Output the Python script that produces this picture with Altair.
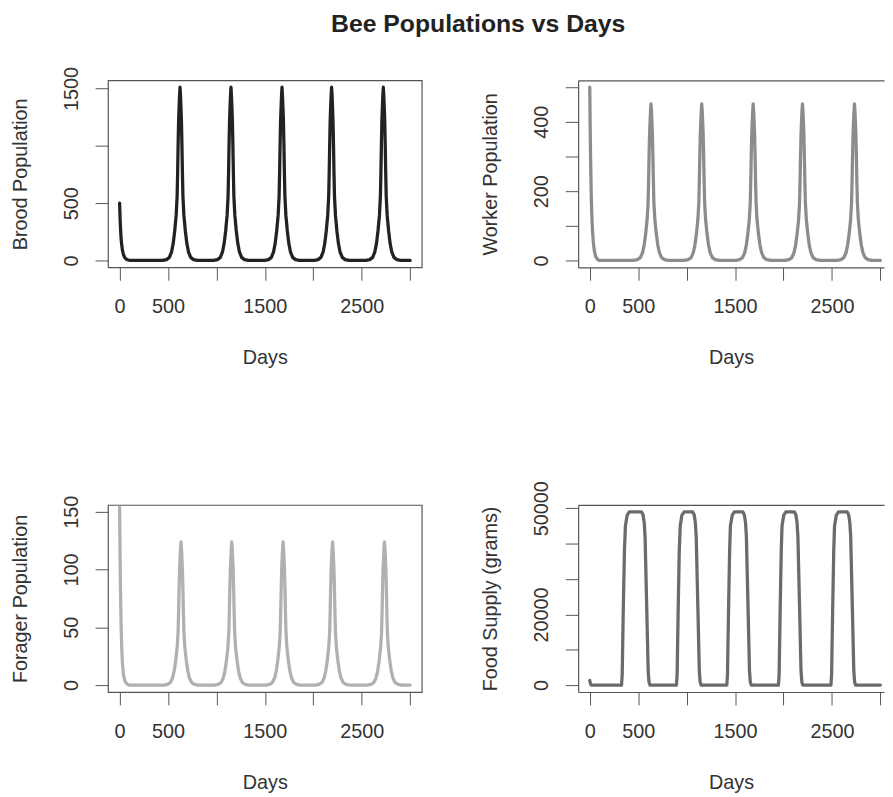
import altair as alt
import pandas as pd

TITLE = "Bee Populations vs Days"
X_TICKS = [0, 500, 1000, 1500, 2000, 2500, 3000]
X_LABELED = [0, 500, 1500, 2500]
LAST_DAY = 3000

# relative shape of one population pulse (days from the peak, fraction of peak)
PEAK_OFFSETS = [-180, -140, -110, -87, -70, -55, -40, -30, -25, -20, -15, -10, -5, 0,
                5, 10, 15, 20, 25, 30, 40, 55, 70, 87, 110, 140, 180]
PEAK_SHAPE = [0, 0.005, 0.018, 0.05, 0.10, 0.17, 0.26, 0.37, 0.50, 0.66, 0.80, 0.88, 0.95, 1.0,
              0.95, 0.88, 0.80, 0.66, 0.50, 0.37, 0.26, 0.17, 0.10, 0.05, 0.018, 0.005, 0]

BROOD_START_DAYS = [0, 5, 10, 15, 20, 30, 40, 55, 70, 90, 120]
BROOD_START_VALUES = [500, 365, 270, 200, 150, 85, 50, 22, 10, 3, 0]
BROOD_PEAK_DAYS = [624, 1150, 1677, 2189, 2723]
BROOD_PEAK_HEIGHT = 1512

WORKER_START_DAYS = [0, 4, 8, 12, 17, 22, 28, 36, 46, 60, 80, 100]
WORKER_START_VALUES = [500, 390, 305, 235, 170, 125, 88, 55, 30, 12, 3, 0]
WORKER_PEAK_DAYS = [632, 1156, 1687, 2196, 2733]
WORKER_PEAK_HEIGHT = 452

FORAGER_START_DAYS = [0, 4, 8, 12, 16, 22, 30, 40, 55, 75, 100]
FORAGER_START_VALUES = [154, 120, 90, 68, 50, 32, 18, 9, 3.5, 1, 0]
FORAGER_PEAK_DAYS = [634, 1158, 1688, 2199, 2735]
FORAGER_PEAK_HEIGHT = 124

FOOD_DAYS = [0, 6, 15,
             328, 335, 345, 358, 368, 385, 408, 534, 550, 562, 571, 588, 603, 612, 622,
             895, 902, 912, 924, 934, 950, 975, 1062, 1078, 1090, 1099, 1116, 1131, 1140, 1150,
             1415, 1422, 1432, 1444, 1452, 1470, 1493, 1580, 1596, 1608, 1617, 1634, 1649, 1658, 1668,
             1948, 1955, 1965, 1977, 1985, 2002, 2025, 2112, 2128, 2140, 2149, 2166, 2181, 2190, 2200,
             2490, 2497, 2507, 2519, 2527, 2545, 2568, 2657, 2673, 2685, 2694, 2711, 2726, 2735, 2745,
             3000]
FOOD_GRAMS = [1300, 500, 0,
              0, 3000, 20000, 38000, 45000, 48000, 49000, 49000, 48200, 46000, 42000, 22000, 4000, 800, 0,
              0, 3000, 20000, 38000, 45000, 48000, 49000, 49000, 48200, 46000, 42000, 22000, 4000, 800, 0,
              0, 3000, 20000, 38000, 45000, 48000, 49000, 49000, 48200, 46000, 42000, 22000, 4000, 800, 0,
              0, 3000, 20000, 38000, 45000, 48000, 49000, 49000, 48200, 46000, 42000, 22000, 4000, 800, 0,
              0, 3000, 20000, 38000, 45000, 48000, 49000, 49000, 48200, 46000, 42000, 22000, 4000, 800, 0,
              0]

BOX = "#555555"
TEXT = "#333333"
FONT = "Liberation Sans"


def pulses(start_days, start_values, peak_days, height):
    days = list(start_days)
    vals = list(start_values)
    for c in peak_days:
        for o, r in zip(PEAK_OFFSETS, PEAK_SHAPE):
            days.append(c + o)
            vals.append(height * r)
    days.append(LAST_DAY)
    vals.append(0)
    return pd.DataFrame({"day": days, "value": vals})


brood = pulses(BROOD_START_DAYS, BROOD_START_VALUES, BROOD_PEAK_DAYS, BROOD_PEAK_HEIGHT)
worker = pulses(WORKER_START_DAYS, WORKER_START_VALUES, WORKER_PEAK_DAYS, WORKER_PEAK_HEIGHT)
forager = pulses(FORAGER_START_DAYS, FORAGER_START_VALUES, FORAGER_PEAK_DAYS, FORAGER_PEAK_HEIGHT)
food = pd.DataFrame({"day": FOOD_DAYS, "value": FOOD_GRAMS})


def panel(df, color, ytitle, ydom, yticks, ylabeled, width, xdom, cropped):
    xs = alt.Scale(domain=xdom, nice=False, zero=False)
    ys = alt.Scale(domain=ydom, nice=False, zero=False)
    xaxis = alt.Axis(values=X_TICKS, format="d",
                     labelExpr=f"indexof({X_LABELED}, datum.value) >= 0 ? datum.label : ''",
                     labelPadding=17, title="Days", titleY=91, titleBaseline="middle",
                     titleAlign="center", domain=cropped)
    yaxis = alt.Axis(values=yticks, format="d",
                     labelExpr=f"indexof({ylabeled}, datum.value) >= 0 ? datum.label : ''",
                     labelAngle=270, labelAlign="center", labelBaseline="middle", labelPadding=24,
                     title=ytitle, titleX=-88, titleAngle=270, titleBaseline="middle",
                     titleAlign="center", domain=cropped)
    line = alt.Chart(df).mark_line(color=color, strokeWidth=3.3, strokeCap="round",
                                   strokeJoin="round", clip=True).encode(
        x=alt.X("day:Q", scale=xs, axis=xaxis),
        y=alt.Y("value:Q", scale=ys, axis=yaxis),
        order="day:Q",
    )
    if cropped:
        top = alt.Chart(df).mark_line(opacity=0).encode(
            x=alt.X("day:Q", scale=xs,
                    axis=alt.Axis(orient="top", ticks=False, labels=False, title="", domain=True)),
            y=alt.Y("value:Q", scale=ys, axis=yaxis),
        )
        return alt.layer(line, top).resolve_axis(x="independent").properties(
            width=width, height=189, view=alt.ViewBackground(stroke="transparent"))
    return line.properties(width=width, height=189)


XL = [-120, 3120]
XR = [-120, 3038]

tl = panel(brood, "#222222", "Brood Population", [-60.5, 1572.5], [0, 500, 1000, 1500],
           [0, 500, 1500], 317, XL, False)
tr = panel(worker, "#8c8c8c", "Worker Population", [-20, 520], [0, 100, 200, 300, 400, 500],
           [0, 200, 400], 309, XR, True)
bl = panel(forager, "#b0b0b0", "Forager Population", [-6, 156], [0, 50, 100, 150],
           [0, 50, 100, 150], 317, XL, False)
br = panel(food, "#6b6b6b", "Food Supply (grams)", [-1960, 50960],
           [0, 10000, 20000, 30000, 40000, 50000], [0, 20000, 50000], 309, XR, True)

chart = alt.concat(tl, tr, bl, br, columns=2, spacing={"row": 240, "column": 158},
                   bounds="flush").properties(
    title=alt.TitleParams(TITLE, fontSize=25, font=FONT, fontWeight="bold", color="#222222",
                          anchor="middle", offset=29, dx=31),
    padding={"left": 2, "top": 0, "right": 0, "bottom": 0},
).configure_view(stroke=BOX, strokeWidth=1.2).configure_axis(
    labelFont=FONT, labelFontSize=20, labelColor=TEXT,
    titleFont=FONT, titleFontSize=20, titleFontWeight="normal", titleColor=TEXT,
    tickColor=BOX, tickSize=13, tickWidth=1, domainColor=BOX, domainWidth=1.2,
    labelOverlap=False, labelFlush=False, labelBound=False, grid=False,
)

chart.save("out.html", embed_options={"renderer": "svg", "actions": False})
